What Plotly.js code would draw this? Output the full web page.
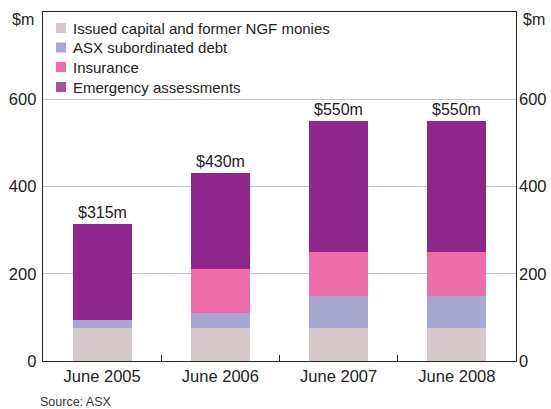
<!DOCTYPE html>
<html><head><meta charset="utf-8">
<script src="https://cdn.plot.ly/plotly-3.0.1.min.js"></script>
<style>html,body{margin:0;padding:0;background:#fff;}</style>
</head><body>
<div id="chart" style="width:551px;height:409px;"></div>
<script>
const categories = ["June 2005", "June 2006", "June 2007", "June 2008"];
const issuedCapital = [75, 75, 75, 75];
const subordinatedDebt = [20, 35, 75, 75];
const insurance = [0, 100, 100, 100];
const emergency = [220, 220, 300, 300];
const totalLabels = ["$315m", "$430m", "$550m", "$550m"];
const seriesNames = ["Issued capital and former NGF monies", "ASX subordinated debt", "Insurance", "Emergency assessments"];
const seriesColors = ["#d3cac9", "#a8a7cf", "#ef6eaa", "#8e268b"];
const yTicks = [0, 200, 400, 600];

const W = 551, H = 409;
const M = {l: 43, r: 35, t: 12, b: 48};
const plotW = W - M.l - M.r, plotH = H - M.t - M.b;
const px = x => (x - M.l) / plotW;           // pixel -> paper x
const py = y => (H - M.b - y) / plotH;       // pixel -> paper y

const seriesData = [issuedCapital, subordinatedDebt, insurance, emergency];
const traces = seriesData.map((vals, i) => ({
  type: "bar", x: categories, y: vals, name: seriesNames[i],
  marker: {color: seriesColors[i], line: {width: 0}}, width: 0.5,
  hoverinfo: "none", showlegend: false
}));
traces.push({type: "scatter", x: categories, y: [null,null,null,null], yaxis: "y2", showlegend: false, hoverinfo: "none"});

const totals = categories.map((c, i) => seriesData.reduce((s, a) => s + a[i], 0));
const font = {family: "Liberation Sans, Arial, sans-serif", color: "#222"};
const annotations = categories.map((c, i) => ({
  x: c, y: totals[i], xref: "x", yref: "y", text: totalLabels[i], showarrow: false,
  yanchor: "bottom", yshift: 1, font: Object.assign({}, font, {size: 16})
}));
annotations.push({xref: "paper", yref: "paper", x: px(36), y: py(20), xanchor: "right", yanchor: "middle", text: "$m", showarrow: false, font: Object.assign({}, font, {size: 16})});
annotations.push({xref: "paper", yref: "paper", x: px(521), y: py(20), xanchor: "left", yanchor: "middle", text: "$m", showarrow: false, font: Object.assign({}, font, {size: 16})});
annotations.push({xref: "paper", yref: "paper", x: px(39), y: py(402), xanchor: "left", yanchor: "middle", borderpad: 0, text: "Source: ASX", showarrow: false, font: Object.assign({}, font, {size: 12.5, color: "#333"})});

// custom legend (swatches + labels)
const shapes = [];
const legendRowY = [28, 47.5, 67, 87];
seriesNames.forEach((n, i) => {
  const cy = legendRowY[i];
  shapes.push({type: "rect", xref: "paper", yref: "paper", x0: px(56), x1: px(66), y0: py(cy + 5), y1: py(cy - 5),
    fillcolor: seriesColors[i], line: {width: 0}, opacity: i === 3 ? 0.8 : 1});
  annotations.push({xref: "paper", yref: "paper", x: px(72), y: py(cy), xanchor: "left", yanchor: "middle",
    text: n, showarrow: false, borderpad: 0, font: Object.assign({}, font, {size: 15})});
});

const layout = {
  width: W, height: H,
  margin: M,
  paper_bgcolor: "#fff", plot_bgcolor: "#fff",
  barmode: "stack", showlegend: false,
  font: font,
  xaxis: {type: "category", showline: true, linecolor: "#222", linewidth: 1.3, mirror: true,
    ticks: "inside", tickson: "boundaries", ticklen: 6, tickcolor: "#222", showgrid: false,
    tickfont: Object.assign({}, font, {size: 16.5}), fixedrange: true},
  yaxis: {range: [0, 800], tickvals: yTicks, ticks: "", showline: true, linecolor: "#222", linewidth: 1.3, mirror: true,
    showgrid: true, gridcolor: "#c3c7cc", gridwidth: 1, zeroline: false,
    tickfont: Object.assign({}, font, {size: 16.5}), ticklabelstandoff: 2, fixedrange: true},
  yaxis2: {range: [0, 800], tickvals: yTicks, overlaying: "y", side: "right", showline: false, showgrid: false,
    zeroline: false, ticks: "", tickfont: Object.assign({}, font, {size: 16.5}), ticklabelstandoff: 2, fixedrange: true},
  shapes: shapes,
  annotations: annotations
};
Plotly.newPlot("chart", traces, layout, {displayModeBar: false, staticPlot: true});
</script>
</body></html>
